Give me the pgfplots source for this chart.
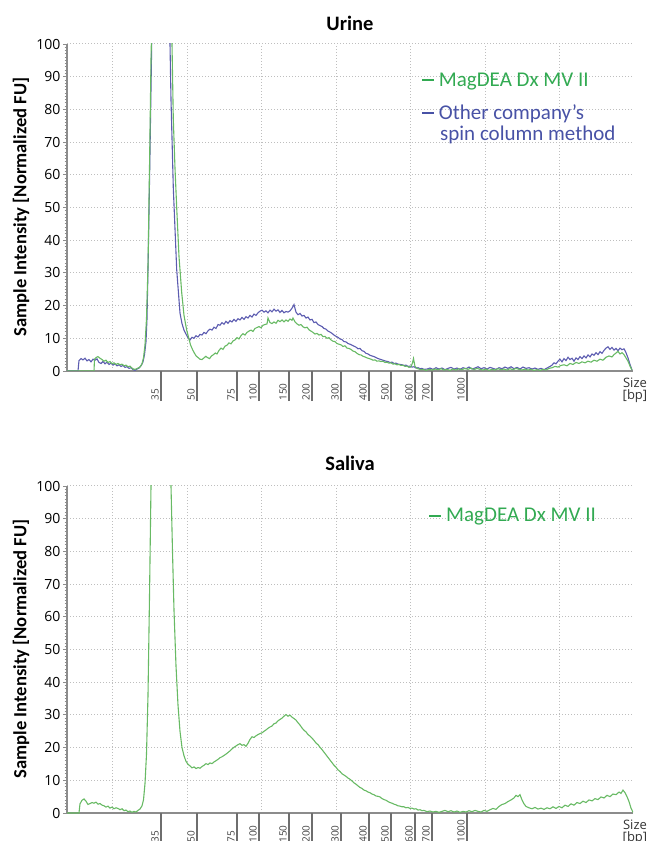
\documentclass[border=0pt]{standalone}
\usepackage{fontspec}
\setmainfont{Carlito}
\newfontfamily\osans{Open Sans}
\usepackage{pgfplots}
\pgfplotsset{compat=1.18}
\definecolor{gline}{RGB}{104,186,100}
\definecolor{bline}{RGB}{92,92,176}
\definecolor{gtext}{RGB}{50,170,82}
\definecolor{btext}{RGB}{72,82,166}
\definecolor{axgray}{RGB}{140,140,140}
\definecolor{gridgray}{RGB}{190,190,190}
\definecolor{ladgray}{RGB}{110,110,110}
\pgfplotsset{
  elec/.style={
    scale only axis, width=566pt, height=327pt,
    xmin=67, xmax=633, ymin=0, ymax=100,
    axis x line*=bottom, axis y line*=left,
    x axis line style={-, draw=axgray, line width=2pt},
    y axis line style={-, draw=axgray, line width=1.6pt},
    ytick={0,10,...,100},
    minor y tick num=9,
    tick align=outside,
    major tick length=4pt, minor tick length=2.5pt,
    y tick style={draw=axgray, line width=0.8pt},
    /pgf/number format/assume math mode=true,
    yticklabel style={font=\osans\fontsize{14}{14}\selectfont, text=black, xshift=1pt},
    xtick={112,187,261,336,410,485,559},
    xticklabels={},
    x tick style={draw=none},
    xmajorgrids, ymajorgrids,
    major grid style={dash pattern=on 1pt off 2pt, draw=gridgray, line width=1pt},
    extra x ticks={161,197,237,259,289,312,341,369,391,415,432,467},
    extra x tick labels={35,50,75,100,150,200,300,400,500,600,700,1000},
    extra x tick style={grid=none, major tick length=30pt,
      x tick style={draw=ladgray, line width=1.1pt},
      tick style={draw=ladgray, line width=1.1pt},
      tick label style={rotate=90, anchor=west, xshift=-3pt, yshift=6pt,
        font=\osans\fontsize{10}{10}\selectfont, text=black!75}},
    clip mode=individual,
  },
}
\newcommand{\lgdash}[1]{\textcolor{#1}{\rule[0.26em]{12pt}{1.8pt}}\hspace{5pt}}
\begin{document}
\begin{tikzpicture}
\useasboundingbox (0,0) rectangle (651pt,841pt);
% ---------------- Urine ----------------
\begin{axis}[elec, at={(67pt,470pt)}, anchor=south west]
\addplot[color=bline, line width=1.1pt] coordinates {
(67,0) (78,0) (79,3.2) (81,3.8) (83,3.4) (85,3.9) (87,3.1) (89,3.5) (91,2.8) (93,3.6) (95,3.3) (97,3.7) (99,2.6) (101,2.3) (103,2.9) (105,2.2) (107,2.7) (109,2.0) (111,2.4) (113,1.8) (115,2.2) (117,1.6) (119,1.9) (121,1.4) (123,1.7) (125,1.1) (127,1.3) (129,0.8) (131,1.0) (133,0.4) (135,0.2) (137,0.6) (139,0.9) (141,1.6) (143,2.8) (144.5,5) (146,9) (147,16) (148.3,36) (150,67) (151.7,100) (155,140) (165,140) (170,100) (171,83) (173.3,56) (176.7,31) (180,17.7) (182,14.5) (184,12.5) (186,11.3) (188,10.2) (190,9.5) (192,10.3) (194,10.0) (196,10.8) (198,10.4) (200,11.2) (202,11.0) (204,11.8) (206,11.4) (208,12.3) (210,12.8) (212,12.5) (214,13.4) (216,13.0) (218,14.2) (220,14.0) (222,14.8) (224,14.3) (226,15.2) (228,14.6) (230,15.4) (232,15.0) (234,15.8) (236,15.2) (238,16.0) (240,15.6) (242,16.4) (244,15.8) (246,16.6) (248,16.2) (250,17.0) (252,16.5) (254,17.4) (256,17.0) (258,17.8) (260,18.3) (262,18.6) (264,18.0) (266,18.4) (268,17.8) (270,18.6) (272,18.1) (274,18.9) (276,18.3) (278,18.7) (280,17.9) (282,18.5) (284,17.8) (286,18.2) (288,18.0) (290,18.4) (292,19.2) (294,20.3) (296,18.0) (298,17.2) (300,17.6) (302,16.8) (304,17.0) (306,16.2) (308,16.5) (310,15.6) (312,15.8) (314,14.8) (316,15.0) (318,14.2) (320,13.9) (322,13.6) (324,13.0) (326,12.8) (328,12.2) (330,11.9) (332,11.5) (334,11.0) (336,10.6) (338,10.3) (340,9.8) (342,9.6) (344,9.0) (346,8.9) (348,8.4) (350,8.2) (352,7.9) (354,7.6) (356,7.3) (358,6.8) (360,6.9) (362,6.2) (364,6.0) (366,5.4) (368,5.2) (370,4.8) (372,4.6) (374,4.4) (376,4.1) (378,3.8) (380,3.6) (382,3.4) (384,3.2) (386,3.0) (388,2.9) (390,2.6) (392,2.7) (394,2.3) (396,2.4) (398,2.1) (400,2.0) (402,1.9) (404,1.7) (406,1.8) (408,1.4) (410,1.5) (412,1.2) (414,1.3) (416,0.9) (418,1.0) (420,0.7) (422,0.8) (424,0.5) (427,0.6) (430,0.9) (433,0.5) (436,1.0) (439,0.6) (442,0.9) (445,0.4) (448,0.8) (451,1.1) (454,0.6) (457,0.9) (460,0.5) (463,1.0) (466,0.7) (469,1.2) (472,0.6) (475,0.9) (478,1.3) (481,0.7) (484,1.0) (487,0.6) (490,1.1) (493,0.8) (496,0.5) (499,1.0) (502,0.7) (505,1.2) (508,0.8) (511,1.3) (514,0.7) (517,1.1) (520,0.6) (523,1.2) (526,0.8) (529,1.0) (532,0.6) (535,0.9) (538,0.5) (541,0.8) (544,0.4) (547,0.9) (550,1.4) (552,1.8) (554,2.5) (556,2.2) (558,3.0) (560,3.6) (562,2.8) (564,3.8) (566,3.2) (568,4.2) (570,3.5) (572,3.9) (574,3.0) (576,4.0) (578,3.5) (580,4.4) (582,3.8) (584,4.6) (586,4.0) (588,4.9) (590,4.3) (592,5.2) (594,4.8) (596,5.6) (598,5.0) (600,5.9) (602,5.4) (604,6.3) (606,7.0) (608,7.4) (610,6.6) (612,7.2) (614,6.4) (616,6.9) (618,6.2) (620,7.0) (622,6.5) (624,6.8) (626,5.6) (628,4.0) (630,2.0) (632,0.3)
};
\addplot[color=gline, line width=1.1pt] coordinates {
(67,0) (94,0) (94.5,3.6) (96,4.1) (98,4.4) (100,3.9) (102,3.5) (104,3.0) (106,3.3) (108,2.6) (110,2.9) (112,2.2) (114,2.5) (116,2.0) (118,2.3) (120,1.9) (122,2.1) (124,1.6) (126,1.8) (128,1.3) (130,1.5) (132,0.9) (134,0.5) (136,0.6) (138,0.9) (140,1.2) (142,2.2) (143.5,4) (145,8) (146.5,16) (148,32) (149.5,62) (151,95) (152,110) (160,140) (170,140) (172,100) (173.3,77) (175,62) (176.7,50) (179,35) (181.7,24) (184,17) (186.7,12.5) (188.8,10) (190.5,8) (192.6,6.5) (194.5,5.4) (196.4,4.5) (198.5,4.0) (200,3.6) (202,3.5) (204,4.0) (205.8,4.5) (207.5,4.1) (209.6,3.8) (211.5,4.6) (213.5,5.0) (215.3,5.5) (217,5.2) (219,6.3) (221,7.0) (223,6.6) (225,7.6) (227,7.9) (229,8.6) (231,8.3) (233,9.2) (235,9.5) (237,10.2) (239,9.8) (241,10.8) (243,11.4) (245,11.0) (247,11.8) (249,12.2) (251,12.5) (253,12.1) (255,13.0) (257,13.3) (259,13.6) (261,13.2) (263,14.0) (265,14.2) (267,14.4) (268,16.2) (270,14.8) (272,14.5) (274,15.0) (276,14.6) (278,15.5) (280,15.1) (282,15.6) (284,15.0) (286,15.6) (288,15.2) (290,15.9) (292,15.5) (293,16.2) (295,15.0) (297,14.4) (299,14.0) (301,14.2) (303,13.5) (305,13.2) (307,13.4) (309,12.6) (311,12.2) (313,11.8) (315,11.3) (317,11.5) (319,11.0) (321,11.2) (323,10.5) (325,10.6) (327,10.0) (329,10.2) (331,9.5) (333,9.1) (335,9.0) (337,8.4) (339,8.2) (341,8.0) (343,7.5) (345,7.7) (347,7.0) (349,6.9) (351,6.6) (353,6.1) (355,5.9) (357,5.4) (359,5.0) (361,4.9) (363,4.5) (365,4.3) (367,4.0) (369,3.8) (371,3.6) (373,3.3) (375,3.4) (377,3.0) (379,3.1) (381,2.9) (383,3.0) (385,2.6) (387,2.7) (389,2.4) (391,2.5) (393,2.1) (395,2.2) (397,1.9) (399,2.0) (401,1.7) (403,1.8) (405,1.4) (407,1.5) (409,1.1) (411,1.3) (412.5,2.5) (413.5,3.8) (415,1.4) (417,0.8) (419,0.6) (421,0.4) (423,0.5) (426,0.2) (429,0.5) (432,0.3) (435,0.6) (438,0.4) (441,0.7) (444,0.3) (447,0.5) (450,0.2) (453,0.6) (456,0.3) (459,0.7) (462,0.4) (465,0.8) (468,0.5) (471,0.9) (474,0.4) (477,0.8) (480,0.5) (483,0.3) (486,0.6) (489,0.2) (492,0.5) (495,0.3) (498,0.7) (501,0.4) (504,0.6) (507,0.3) (510,0.7) (513,0.4) (516,0.8) (519,0.5) (522,0.3) (525,0.6) (528,0.3) (531,0.5) (534,0.2) (537,0.4) (540,0.2) (543,0.5) (546,0.3) (549,0.8) (552,1.0) (555,1.4) (558,1.2) (561,1.7) (564,1.9) (567,1.6) (570,2.3) (573,2.0) (576,2.6) (579,2.3) (582,2.8) (585,2.5) (588,3.0) (591,2.7) (594,3.3) (597,3.0) (600,3.6) (603,3.3) (606,4.2) (609,4.6) (612,4.3) (614,5.0) (616,5.5) (618,6.0) (620,5.2) (622,5.6) (624,5.0) (626,4.0) (628,3.0) (630,1.5) (632,0.3)
};
\node[font=\bfseries\fontsize{20.5}{20.5}\selectfont] at (rel axis cs:0.5,1.063) {Urine};
\node[rotate=90, font=\bfseries\fontsize{18.6}{18.6}\selectfont] at (rel axis cs:-0.0813,0.5015) {Sample Intensity [Normalized FU]};
\node[anchor=west, inner sep=0pt, text=gtext, font=\fontsize{21}{21}\selectfont] at (rel axis cs:0.6267,0.8847) {\lgdash{gtext}MagDEA Dx MV II};
\node[anchor=west, inner sep=0pt, text=btext, font=\fontsize{21}{21}\selectfont] at (rel axis cs:0.6267,0.788) {\lgdash{btext}Other company’s};
\node[anchor=west, inner sep=0pt, text=btext, font=\fontsize{21}{21}\selectfont] at (rel axis cs:0.6590,0.7217) {spin column method};
\node[align=center, text=black!80, font=\osans\fontsize{13}{12}\selectfont, inner sep=0pt] at (rel axis cs:1.0035,-0.058) {Size\\{[bp]}};
\end{axis}
% ---------------- Saliva ----------------
\begin{axis}[elec, at={(67pt,28pt)}, anchor=south west]
\addplot[color=gline, line width=1.1pt] coordinates {
(67,0) (79,0) (80,2.8) (82,3.9) (84,4.3) (86,3.6) (88,2.6) (90,2.9) (92,3.2) (94,3.0) (96,3.3) (98,2.7) (100,2.9) (102,2.4) (104,2.2) (106,1.8) (108,2.1) (110,1.5) (112,1.8) (114,1.3) (116,1.6) (118,1.4) (120,1.0) (122,1.3) (124,0.7) (126,0.9) (128,0.4) (130,0.6) (132,0.2) (134,0.5) (136,0.3) (138,0.8) (140,1.2) (142,2.2) (143.5,4) (145,9) (146.5,18) (148,36) (149.5,66) (151,100) (153,140) (168,140) (171,100) (172.5,80) (174,62) (176,45) (178,33) (180,25) (182,20) (184,17.5) (186,15.8) (188,14.9) (190,14.4) (192,13.8) (194,14.1) (196,13.6) (198,13.9) (200,13.7) (202,14.2) (204,14.6) (206,15.1) (208,14.8) (210,15.3) (212,15.1) (214,15.6) (216,16.0) (218,16.4) (220,16.9) (222,17.2) (224,17.6) (226,18.0) (228,18.5) (230,19.0) (232,19.6) (234,20.1) (236,20.5) (238,20.9) (240,21.2) (242,20.7) (244,20.9) (246,20.4) (248,21.3) (250,22.5) (252,23.3) (254,23.1) (256,23.6) (258,24.0) (260,24.3) (262,24.5) (264,25.0) (266,25.4) (268,25.9) (270,26.3) (272,26.6) (274,27.3) (276,27.5) (278,28.2) (280,28.6) (282,29.0) (284,29.6) (286,30.1) (288,29.6) (290,29.9) (292,29.3) (294,28.9) (296,28.4) (298,27.6) (300,26.9) (302,26.0) (304,25.3) (306,24.8) (308,24.0) (310,23.5) (312,22.9) (314,22.2) (316,21.4) (318,20.9) (320,20.1) (322,19.4) (324,18.6) (326,17.8) (328,17.0) (330,16.2) (332,15.4) (334,14.6) (336,14.0) (338,13.2) (340,12.7) (342,12.0) (344,11.6) (346,11.2) (348,10.7) (350,10.3) (352,9.8) (354,9.2) (356,8.8) (358,8.3) (360,7.8) (362,7.5) (364,7.0) (366,6.8) (368,6.4) (370,6.2) (372,5.8) (374,5.6) (376,5.2) (378,5.1) (380,4.9) (382,4.4) (384,4.1) (386,3.9) (388,3.5) (390,3.2) (392,3.0) (394,2.7) (396,2.5) (398,2.2) (400,2.1) (402,1.9) (404,1.9) (406,1.6) (408,1.7) (410,1.4) (412,1.5) (414,1.2) (416,1.3) (418,0.9) (420,1.0) (422,0.7) (424,0.8) (427,0.4) (430,0.6) (433,0.3) (436,0.5) (439,0.2) (442,0.5) (445,0.8) (448,0.4) (451,0.7) (454,0.3) (457,0.6) (460,0.2) (463,0.5) (466,0.3) (469,0.7) (472,0.4) (475,0.8) (478,0.5) (481,0.3) (484,0.8) (487,0.5) (490,1.0) (493,1.4) (496,1.1) (499,2.0) (502,2.6) (505,2.9) (508,3.5) (511,4.0) (514,4.6) (516,5.4) (518,5.0) (520,5.6) (522,4.0) (524,2.8) (526,2.0) (529,1.6) (532,1.3) (535,1.7) (538,1.2) (541,1.5) (544,1.1) (547,1.6) (550,1.3) (553,1.9) (556,1.4) (559,2.0) (562,1.6) (565,2.4) (568,2.0) (571,2.8) (574,2.4) (577,3.2) (580,2.9) (583,3.6) (586,3.2) (589,4.0) (592,3.7) (595,4.4) (598,4.1) (601,4.9) (604,4.6) (607,5.4) (610,5.0) (613,5.8) (616,5.6) (619,6.4) (621,6.0) (623,7.0) (625,6.2) (627,5.0) (629,3.5) (631,1.5) (633,0.2)
};
\node[font=\bfseries\fontsize{20.5}{20.5}\selectfont] at (rel axis cs:0.5,1.070) {Saliva};
\node[rotate=90, font=\bfseries\fontsize{18.6}{18.6}\selectfont] at (rel axis cs:-0.0813,0.5015) {Sample Intensity [Normalized FU]};
\node[anchor=west, inner sep=0pt, text=gtext, font=\fontsize{21}{21}\selectfont] at (rel axis cs:0.6396,0.905) {\lgdash{gtext}MagDEA Dx MV II};
\node[align=center, text=black!80, font=\osans\fontsize{13}{12}\selectfont, inner sep=0pt] at (rel axis cs:1.0035,-0.058) {Size\\{[bp]}};
\end{axis}
\end{tikzpicture}
\end{document}
